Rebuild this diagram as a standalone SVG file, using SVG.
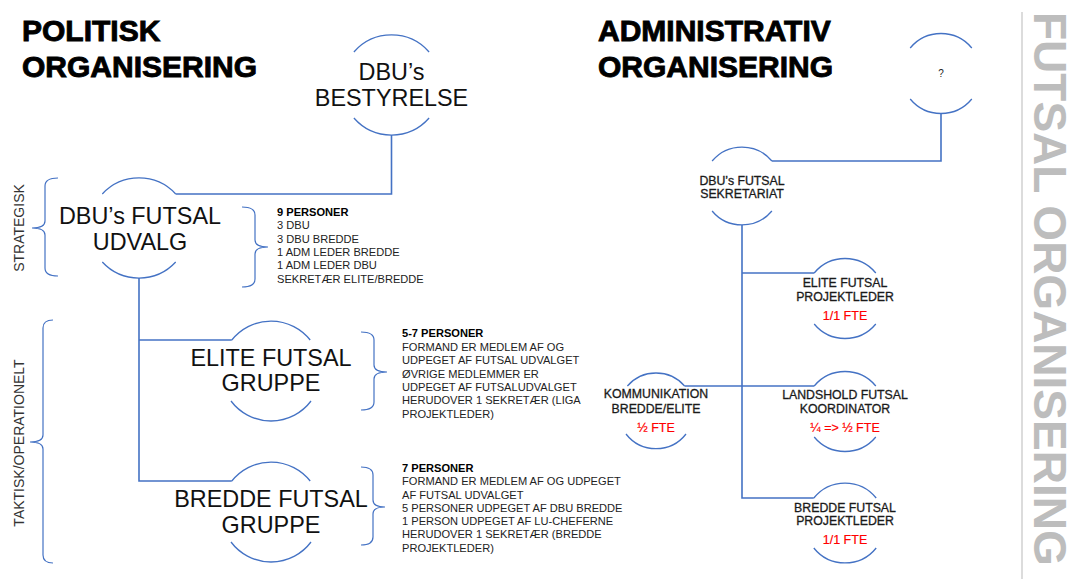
<svg xmlns="http://www.w3.org/2000/svg" width="1078" height="579" viewBox="0 0 1078 579">
<style>
text{font-family:"Liberation Sans",Arial,sans-serif}
.title{font-weight:bold;font-size:30px;fill:#000;stroke:#000;stroke-width:0.9}
.big{font-size:23.4px;fill:#111;text-anchor:middle}
.sm{font-size:12.3px;fill:#1a1a1a;text-anchor:middle;stroke:#1a1a1a;stroke-width:0.3}
.fte{font-size:12.5px;fill:#ff0000;text-anchor:middle;stroke:#ff0000;stroke-width:0.2}
.info{font-size:11.1px;fill:#222}
.b{font-weight:bold;fill:#000}
.side{font-size:14px;fill:#333;text-anchor:middle}
.arc{fill:none;stroke:#4472c4;stroke-width:1.3}
.conn{fill:none;stroke:#4472c4;stroke-width:1.6}
.brace{fill:none;stroke:#4472c4;stroke-width:1.2}
</style>
<rect width="1078" height="579" fill="#fff"/>

<g id="titles">
<text class="title" x="22" y="41">POLITISK</text>
<text class="title" x="22" y="77">ORGANISERING</text>
<text class="title" x="598" y="41">ADMINISTRATIV</text>
<text class="title" x="598" y="77">ORGANISERING</text>
</g>

<g id="side-title">
<line x1="1022" y1="12" x2="1022" y2="579" stroke="#d0d0d0" stroke-width="1.5"/>
<text transform="translate(1034,12) rotate(90)" font-size="46" font-weight="bold" fill="#bdbdbd">FUTSAL ORGANISERING</text>
</g>

<g id="connectors">
<path class="conn" d="M391.5,135 V194 H175.7"/>
<path class="conn" d="M139,278 V481 H231.8"/>
<path class="conn" d="M139,340 H231.8"/>
<path class="conn" d="M941,113.5 V161 H771.9"/>
<path class="conn" d="M742,225 V498 H813.8"/>
<path class="conn" d="M742,273 H814.2"/>
<path class="conn" d="M684.6,386 H814.2"/>
</g>

<g id="braces">
<path class="brace" d="M58,178 Q45,178 45,186 L45,221 Q45,228 32,228 Q45,228 45,235 L45,268 Q45,276 58,276"/>
<path class="brace" d="M53,320 Q43,320 43,328 L43,435 Q43,442 30,442 Q43,442 43,449 L43,555 Q43,563 53,563"/>
<path class="brace" d="M242,207 Q255,207 255,215 L255,240 Q255,247 268,247 Q255,247 255,254 L255,279 Q255,287 242,287"/>
<path class="brace" d="M361,332 Q374,332 374,340 L374,365 Q374,372 387,372 Q374,372 374,379 L374,402 Q374,410 361,410"/>
<path class="brace" d="M361,467 Q373,467 373,475 L373,500 Q373,507 385,507 Q373,507 373,514 L373,537 Q373,545 361,545"/>
</g>

<g id="side-labels">
<text class="side" transform="translate(24,228) rotate(-90)">STRATEGISK</text>
<text class="side" transform="translate(24,443) rotate(-90)">TAKTISK/OPERATIONELT</text>
</g>

<g id="node-bestyrelse">
<path class="arc" d="M353.9,52 A50,50 0 0 1 429.1,52"/>
<path class="arc" d="M353.9,118 A50,50 0 0 0 429.1,118"/>
<text class="big" x="391.5" y="80">DBU’s</text>
<text class="big" x="391.5" y="106">BESTYRELSE</text>
</g>

<g id="node-udvalg">
<path class="arc" d="M102.3,194 A50,50 0 0 1 175.7,194"/>
<path class="arc" d="M102.3,262 A50,50 0 0 0 175.7,262"/>
<text class="big" x="140" y="224">DBU’s FUTSAL</text>
<text class="big" x="140" y="250">UDVALG</text>
</g>

<g id="info-udvalg" class="info">
<text x="277" y="216" class="b">9 PERSONER</text>
<text x="277" y="229">3 DBU</text>
<text x="277" y="243">3 DBU BREDDE</text>
<text x="277" y="256">1 ADM LEDER BREDDE</text>
<text x="277" y="269">1 ADM LEDER DBU</text>
<text x="277" y="283">SEKRETÆR ELITE/BREDDE</text>
</g>

<g id="node-elite">
<path class="arc" d="M231.8,340 A50,50 0 0 1 310.2,340"/>
<path class="arc" d="M231,401 A50,50 0 0 0 311,401"/>
<text class="big" x="271" y="366">ELITE FUTSAL</text>
<text class="big" x="271" y="391">GRUPPE</text>
</g>

<g id="info-elite" class="info">
<text x="402" y="337" class="b">5-7 PERSONER</text>
<text x="402" y="351">FORMAND ER MEDLEM AF OG</text>
<text x="402" y="364">UDPEGET AF FUTSAL UDVALGET</text>
<text x="402" y="378">ØVRIGE MEDLEMMER ER</text>
<text x="402" y="391">UDPEGET AF FUTSALUDVALGET</text>
<text x="402" y="404">HERUDOVER 1 SEKRETÆR (LIGA</text>
<text x="402" y="418">PROJEKTLEDER)</text>
</g>

<g id="node-bredde">
<path class="arc" d="M231.8,481 A50,50 0 0 1 310.2,481"/>
<path class="arc" d="M231,542 A50,50 0 0 0 311,542"/>
<text class="big" x="271" y="507">BREDDE FUTSAL</text>
<text class="big" x="271" y="533">GRUPPE</text>
</g>

<g id="info-bredde" class="info">
<text x="402" y="472" class="b">7 PERSONER</text>
<text x="402" y="485">FORMAND ER MEDLEM AF OG UDPEGET</text>
<text x="402" y="498.5">AF FUTSAL UDVALGET</text>
<text x="402" y="512">5 PERSONER UDPEGET AF DBU BREDDE</text>
<text x="402" y="525">1 PERSON UDPEGET AF LU-CHEFERNE</text>
<text x="402" y="538">HERUDOVER 1 SEKRETÆR (BREDDE</text>
<text x="402" y="552">PROJEKTLEDER)</text>
</g>

<g id="node-unknown">
<path class="arc" d="M910.2,48 A40,40 0 0 1 971.8,48"/>
<path class="arc" d="M910.2,99 A40,40 0 0 0 971.8,99"/>
<text x="941" y="77" font-size="10" fill="#222" text-anchor="middle">?</text>
</g>

<g id="node-sekretariat">
<path class="arc" d="M712.1,161 A39,39 0 0 1 771.9,161"/>
<path class="arc" d="M712.1,211 A39,39 0 0 0 771.9,211"/>
<text class="sm" x="742" y="185">DBU’s FUTSAL</text>
<text class="sm" x="742" y="198">SEKRETARIAT</text>
</g>

<g id="node-elite-projektleder">
<path class="arc" d="M814.2,273 A40,40 0 0 1 875.8,273"/>
<path class="arc" d="M814.2,324 A40,40 0 0 0 875.8,324"/>
<text class="sm" x="845" y="287">ELITE FUTSAL</text>
<text class="sm" x="845" y="301">PROJEKTLEDER</text>
<text class="fte" x="845" y="320">1/1 FTE</text>
</g>

<g id="node-landshold">
<path class="arc" d="M814.2,386 A40,40 0 0 1 875.8,386"/>
<path class="arc" d="M814.2,437 A40,40 0 0 0 875.8,437"/>
<text class="sm" x="845" y="399">LANDSHOLD FUTSAL</text>
<text class="sm" x="845" y="413">KOORDINATOR</text>
<text class="fte" x="845" y="432">¼ =&gt; ½ FTE</text>
</g>

<g id="node-kommunikation">
<path class="arc" d="M627.4,386 A38,38 0 0 1 684.6,386"/>
<path class="arc" d="M626,434 A38,38 0 0 0 686,434"/>
<text class="sm" x="656" y="398">KOMMUNIKATION</text>
<text class="sm" x="656" y="413">BREDDE/ELITE</text>
<text class="fte" x="656" y="432">½ FTE</text>
</g>

<g id="node-bredde-projektleder">
<path class="arc" d="M813.8,498 A40,40 0 0 1 876.2,498"/>
<path class="arc" d="M813.8,548 A40,40 0 0 0 876.2,548"/>
<text class="sm" x="845" y="512">BREDDE FUTSAL</text>
<text class="sm" x="845" y="525">PROJEKTLEDER</text>
<text class="fte" x="845" y="544">1/1 FTE</text>
</g>
</svg>
